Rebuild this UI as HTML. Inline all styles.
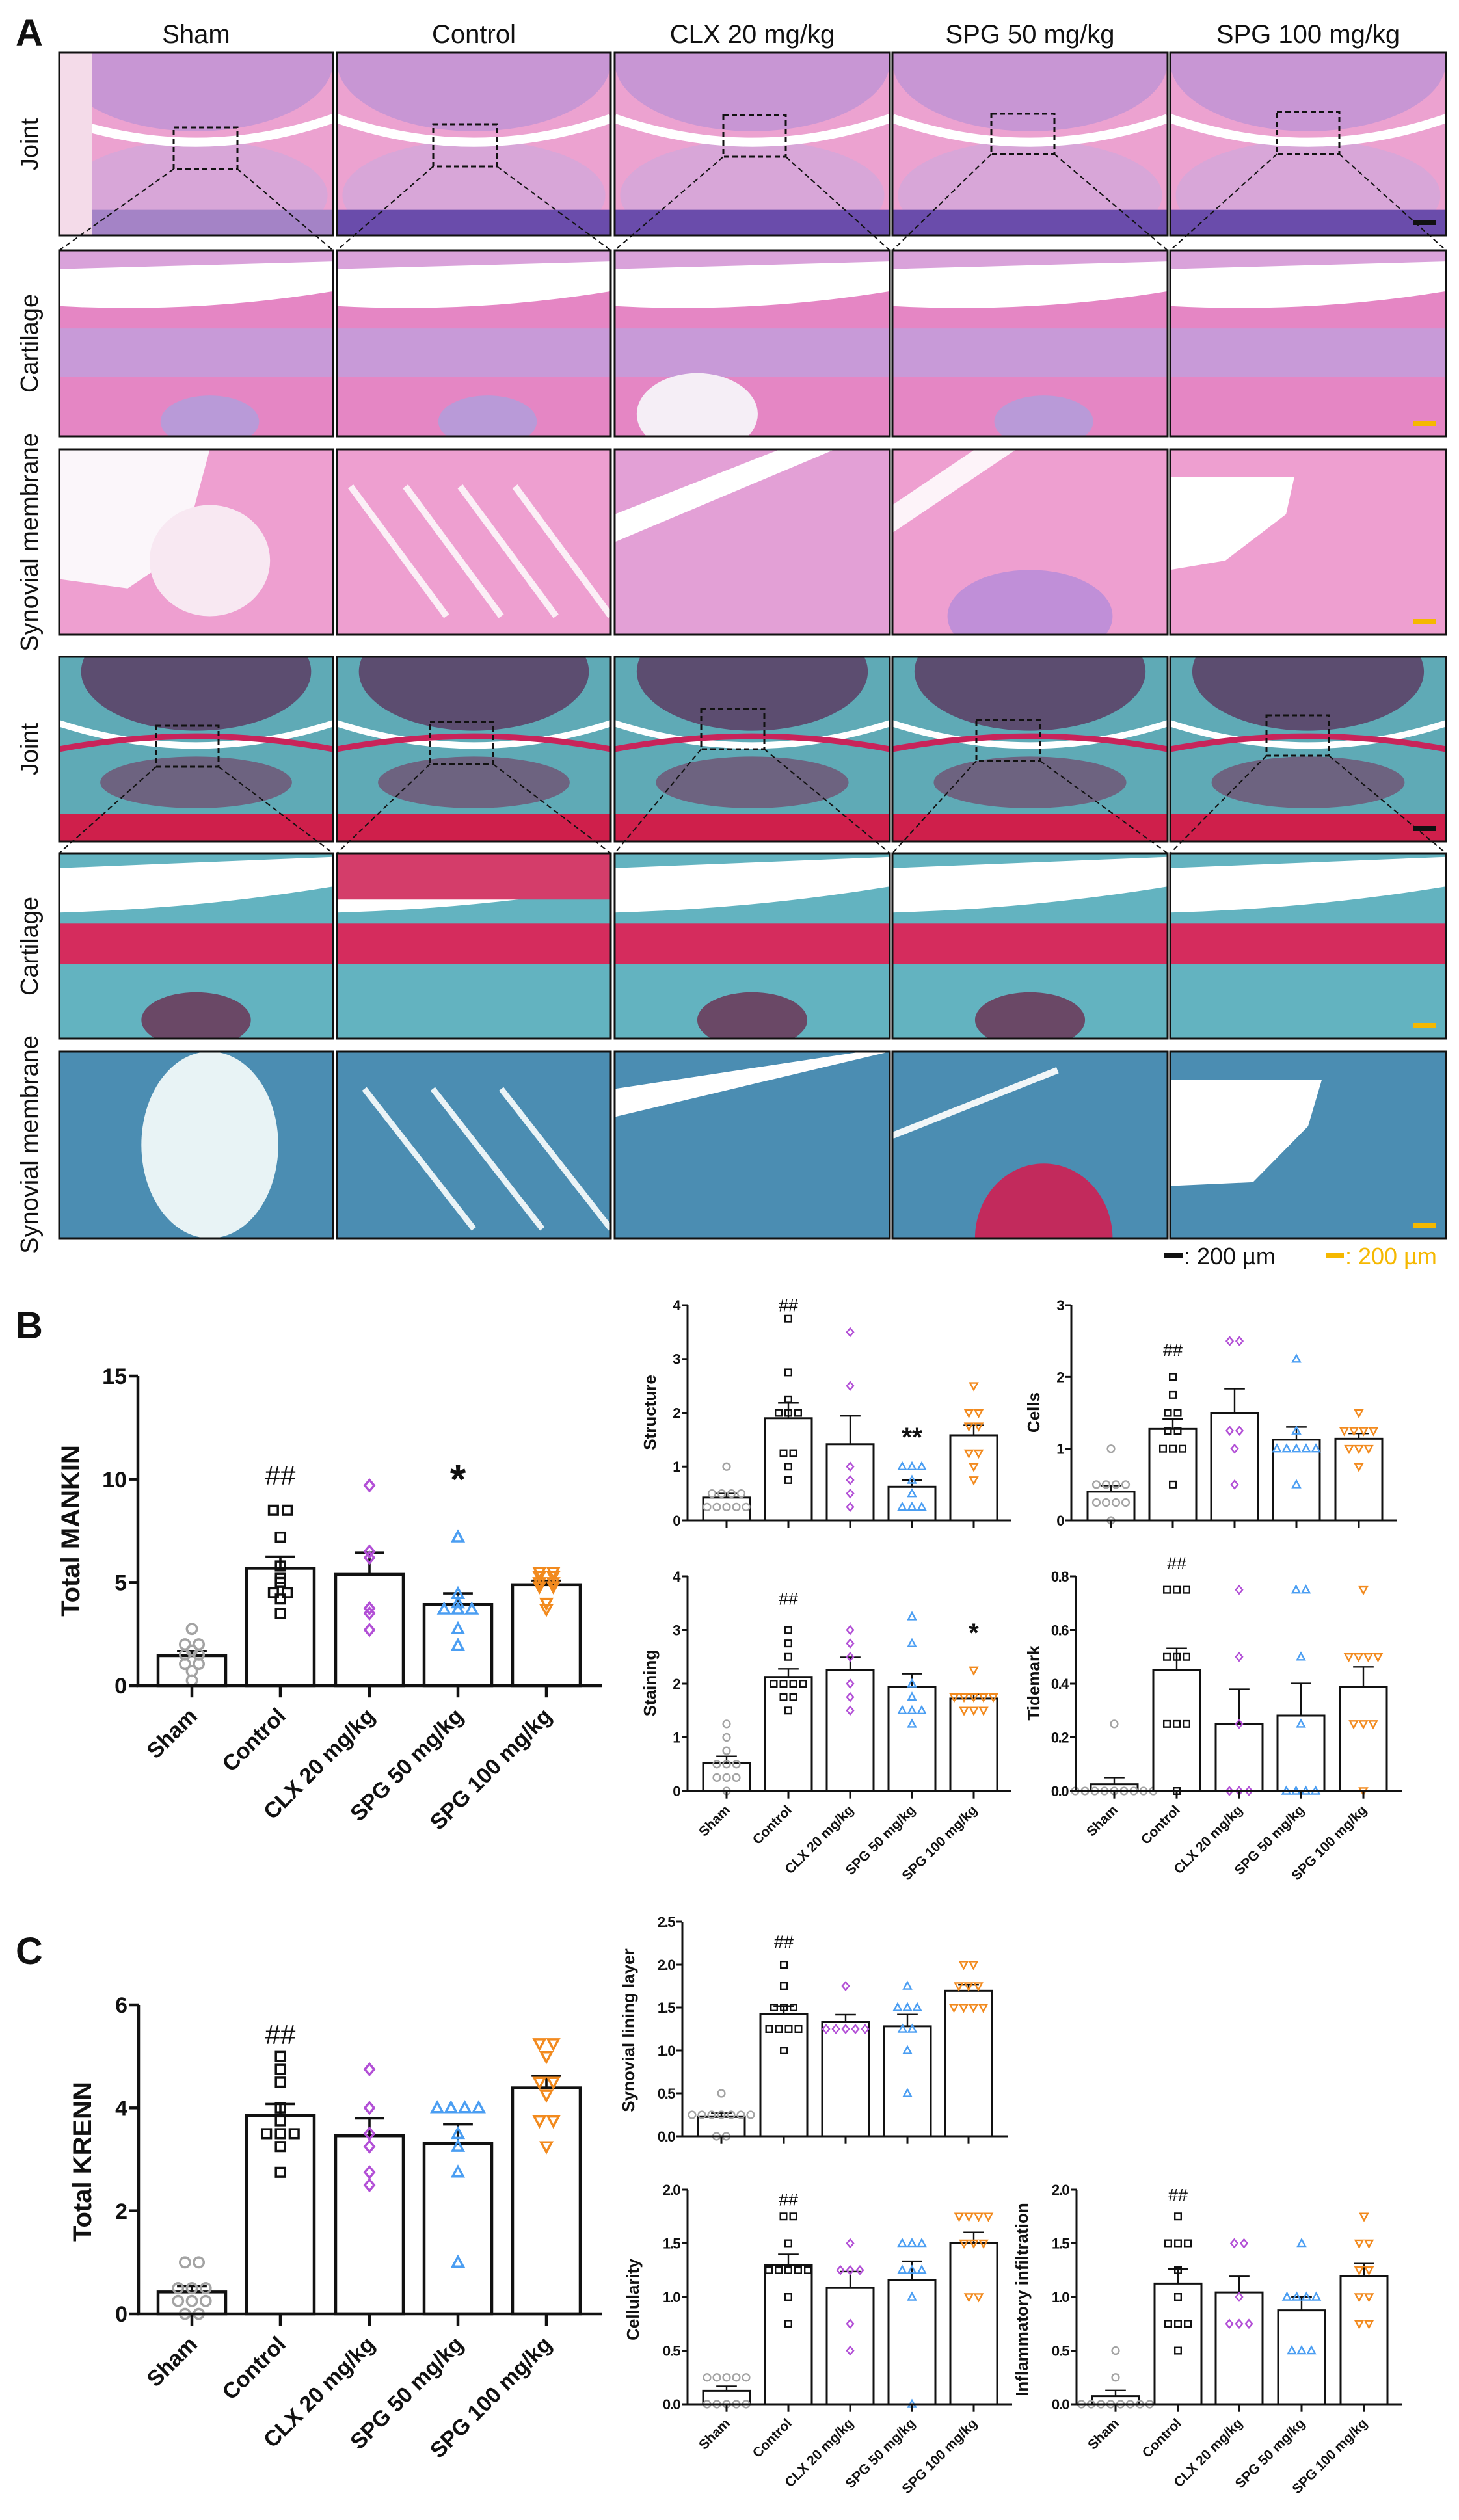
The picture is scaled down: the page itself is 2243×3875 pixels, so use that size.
<!DOCTYPE html>
<html><head><meta charset="utf-8"><style>
html,body{margin:0;padding:0;background:#fff;}
svg{display:block;font-family:"Liberation Sans",Arial,sans-serif;}
</style></head><body>
<svg id="fig" xmlns="http://www.w3.org/2000/svg" width="2243" height="3875" viewBox="0 0 2243 3875">
<rect x="0" y="0" width="2243" height="3875" fill="#fff"/>
<g id="panelA"></g>
<g id="charts"></g>
<text x="24" y="70" font-size="58" font-weight="bold" fill="#111">A</text>
<text x="24" y="2058" font-size="58" font-weight="bold" fill="#111">B</text>
<text x="24" y="3020" font-size="58" font-weight="bold" fill="#111">C</text>
<g>
<rect x="1790" y="1926" width="28" height="8" fill="#111"/>
<text x="1820" y="1944" font-size="36" fill="#111">: 200 µm</text>
<rect x="2038" y="1926" width="28" height="8" fill="#f5b800"/>
<text x="2068" y="1944" font-size="36" fill="#f5b800">: 200 µm</text>
</g>
</svg>
<script>
const groups = ['Sham','Control','CLX 20 mg/kg','SPG 50 mg/kg','SPG 100 mg/kg'];
const mankinValues = [[2.75,2.0,2.0,1.7,1.5,1.5,1.05,1.05,0.7,0.25],[8.5,8.5,7.2,5.8,5.2,5.0,4.5,4.5,4.2,3.5],[9.7,6.5,6.2,3.75,3.5,2.7],[7.2,4.45,4.0,3.7,3.7,3.7,2.75,1.95],[5.5,5.5,5.3,5.3,5.0,5.0,4.8,4.8,4.0,3.7]];
const mankinTicks = [0,5,10,15];
const structureValues = [[1,0.5,0.5,0.5,0.5,0.25,0.25,0.25,0.25,0.25],[3.75,2.75,2.25,2,2,2,1.25,1.25,1,0.75],[3.5,2.5,1,0.75,0.5,0.25],[1,1,1,0.75,0.5,0.25,0.25,0.25],[2.5,2,2,1.75,1.75,1.25,1.25,1,0.75]];
const structureTicks = [0,1,2,3,4];
const cellsValues = [[1,0.5,0.5,0.5,0.5,0.25,0.25,0.25,0.25,0],[2,1.75,1.5,1.5,1.25,1.25,1,1,1,0.5],[2.5,2.5,1.25,1.25,1,0.5],[2.25,1.25,1,1,1,1,1,0.5],[1.5,1.25,1.25,1.25,1.25,1,1,1,0.75]];
const cellsTicks = [0,1,2,3];
const stainingValues = [[1.25,1,0.75,0.5,0.5,0.5,0.25,0.25,0.25,0],[3,2.75,2.5,2,2,2,2,1.75,1.75,1.5],[3,2.75,2.5,2,1.75,1.5],[3.25,2.75,2,1.75,1.5,1.5,1.5,1.25],[2.25,1.75,1.75,1.75,1.75,1.75,1.5,1.5,1.5]];
const stainingTicks = [0,1,2,3,4];
const tidemarkValues = [[0.25,0,0,0,0,0,0,0,0,0],[0.75,0.75,0.75,0.5,0.5,0.5,0.25,0.25,0.25,0],[0.75,0.5,0.25,0,0,0],[0.75,0.75,0.5,0.25,0,0,0,0],[0.75,0.5,0.5,0.5,0.5,0.25,0.25,0.25,0]];
const tidemarkTicks = [0,0.2,0.4,0.6,0.8];
const krennValues = [[1,1,0.5,0.5,0.5,0.25,0.25,0.25,0,0],[5,4.75,4.5,4,3.75,3.5,3.5,3.5,3.25,2.75],[4.75,4,3.5,3.25,2.75,2.5],[4,4,4,4,3.5,3.25,2.75,1],[5.25,5.25,5,4.5,4.5,4.25,3.75,3.75,3.25]];
const krennTicks = [0,2,4,6];
const liningValues = [[0.5,0.25,0.25,0.25,0.25,0.25,0.25,0.25,0,0],[2,1.75,1.5,1.5,1.5,1.25,1.25,1.25,1.25,1],[1.75,1.25,1.25,1.25,1.25,1.25],[1.75,1.5,1.5,1.5,1.25,1.25,1,0.5],[2,2,1.75,1.75,1.75,1.5,1.5,1.5,1.5]];
const liningTicks = [0,0.5,1.0,1.5,2.0,2.5];
const cellularityValues = [[0.25,0.25,0.25,0.25,0.25,0,0,0,0,0],[1.75,1.75,1.5,1.25,1.25,1.25,1.25,1.25,1,0.75],[1.5,1.25,1.25,1.25,0.75,0.5],[1.5,1.5,1.5,1.25,1.25,1.25,1,0],[1.75,1.75,1.75,1.75,1.5,1.5,1.5,1,1]];
const cellularityTicks = [0,0.5,1.0,1.5,2.0];
const inflammValues = [[0.5,0.25,0,0,0,0,0,0,0,0],[1.75,1.5,1.5,1.5,1.25,1,0.75,0.75,0.75,0.5],[1.5,1.5,1,0.75,0.75,0.75],[1.5,1,1,1,1,0.5,0.5,0.5],[1.75,1.5,1.5,1.25,1.25,1,1,0.75,0.75]];
const inflammTicks = [0,0.5,1.0,1.5,2.0];
const mankinSig = [[1,10.2,'##'],[3,10.4,'*']];
const structureSig = [[1,4.0,'##'],[3,1.65,'**']];
const cellsSig = [[1,2.38,'##']];
const stainingSig = [[1,3.59,'##'],[4,3.05,'*']];
const tidemarkSig = [[1,0.85,'##']];
const krennSig = [[1,5.43,'##']];
const liningSig = [[1,2.27,'##']];
const cellularitySig = [[1,1.91,'##']];
const inflammSig = [[1,1.95,'##']];

const NS='http://www.w3.org/2000/svg';
function mk(tag,parent){const e=document.createElementNS(NS,tag);parent.appendChild(e);return e;}
function set(e,a){for(const k in a)e.setAttribute(k,a[k]);return e;}
const colors=['#a3a3a3','#111111','#b24fd6','#4b9ef2','#f28a1e'];

function drawMarker(parent,g,x,y,s,sw){
  let e;
  if(g===0){e=mk('circle',parent);set(e,{cx:x,cy:y,r:s*0.45});}
  else if(g===1){e=mk('rect',parent);set(e,{x:x-s*0.4,y:y-s*0.4,width:s*0.8,height:s*0.8});}
  else if(g===2){e=mk('polygon',parent);set(e,{points:`${x},${y-s*0.5} ${x+s*0.42},${y} ${x},${y+s*0.5} ${x-s*0.42},${y}`});}
  else if(g===3){e=mk('polygon',parent);set(e,{points:`${x},${y-s*0.5} ${x+s*0.48},${y+s*0.38} ${x-s*0.48},${y+s*0.38}`});}
  else {e=mk('polygon',parent);set(e,{points:`${x},${y+s*0.5} ${x+s*0.48},${y-s*0.38} ${x-s*0.48},${y-s*0.38}`});}
  set(e,{fill:'none',stroke:colors[g],'stroke-width':sw});
  
  
}

function chart(cfg){
  const root=document.getElementById('charts');
  const g=mk('g',root);
  
  
  const max=cfg.ticks[cfg.ticks.length-1];
  const ys=v=>cfg.y0-(v/max)*(cfg.y0-cfg.yTop);
  const lw=cfg.lw;
  cfg.values.forEach((arr,i)=>{
    const cx=cfg.centers[i];
    const n=arr.length, mean=arr.reduce((a,b)=>a+b,0)/n;
    const sd=Math.sqrt(arr.reduce((a,b)=>a+(b-mean)*(b-mean),0)/(n-1));
    const sem=sd/Math.sqrt(n);
    const bar=mk('rect',g);
    set(bar,{x:cx-cfg.bw/2,y:ys(mean),width:cfg.bw,height:cfg.y0-ys(mean),fill:'#fff',stroke:'#111','stroke-width':lw});
    
    
    const eb=mk('path',g);
    const cw=cfg.bw*0.22;
    set(eb,{d:`M${cx},${ys(mean)} V${ys(mean+sem)} M${cx-cw},${ys(mean+sem)} H${cx+cw}`,stroke:'#111','stroke-width':lw*0.8,fill:'none'});
    
    
    const counts={};arr.forEach(v=>{counts[v]=(counts[v]||0)+1;});
    const used={};
    arr.forEach(v=>{
      const k=counts[v];const j=used[v]||0;used[v]=j+1;
      const dx=(j-(k-1)/2)*cfg.ms*1.25;
      drawMarker(g,i,cx+dx,ys(v),cfg.ms,cfg.msw);
    });
  });
  const ax=mk('path',g);
  set(ax,{d:`M${cfg.x0},${cfg.yTop} V${cfg.y0} H${cfg.xEnd}`,stroke:'#111','stroke-width':lw,fill:'none'});
  
  
  cfg.ticks.forEach(t=>{
    const tk=mk('line',g);
    set(tk,{x1:cfg.x0-cfg.tl,x2:cfg.x0,y1:ys(t),y2:ys(t),stroke:'#111','stroke-width':lw});
    
    
    const tx=mk('text',g);
    set(tx,{x:cfg.x0-cfg.tl-3,y:ys(t)+cfg.tf*0.36,'text-anchor':'end','font-size':cfg.tf,'font-weight':'bold',fill:'#111','letter-spacing':cfg.ls||0});
    tx.textContent=cfg.fmt?t.toFixed(1):String(t);
    
    
  });
  cfg.centers.forEach((cx,i)=>{
    const tk=mk('line',g);
    set(tk,{x1:cx,x2:cx,y1:cfg.y0,y2:cfg.y0+cfg.tl*1.3,stroke:'#111','stroke-width':lw});
    
    
    if(cfg.labels){
      const lx=cx+cfg.lf*0.3, ly=cfg.y0+cfg.tl*1.3+cfg.lf*0.9;
      const tx=mk('text',g);
      set(tx,{x:lx,y:ly,'text-anchor':'end','font-size':cfg.lf,'font-weight':'bold',fill:'#111',transform:`rotate(-45 ${lx} ${ly})`});
      tx.textContent=groups[i];
      
      
    }
  });
  const tt=mk('text',g);
  set(tt,{x:cfg.titleX,y:cfg.titleY,'text-anchor':'middle','font-size':cfg.titleF,'font-weight':'bold',fill:'#111',transform:`rotate(-90 ${cfg.titleX} ${cfg.titleY})`});
  tt.textContent=cfg.title;
  
  
  cfg.sig.forEach(s=>{
    const tx=mk('text',g);
    const star=s[2].indexOf('*')>=0;
    const fs=star?cfg.sf*1.5:cfg.sf;
    set(tx,{x:cfg.centers[s[0]],y:ys(s[1])+fs*(star?0.55:0.35),'text-anchor':'middle','font-size':fs,'font-weight':star?'bold':'normal',fill:'#111'});
    tx.textContent=s[2];
    
    
  });
}
const big={tf:34,lf:34,tl:14,lw:4.5,ms:17,msw:3.5,bw:104,titleF:40,sf:42,labels:true};
const sm={tf:22,lf:21,tl:9,lw:3,ms:12,msw:2.4,bw:72,titleF:26,sf:27,ls:-1.5};
const cA=[295,431,568,704,840], cS=[1117,1212,1307,1402,1497];
chart(Object.assign({},big,{name:'total-mankin-chart',values:mankinValues,ticks:mankinTicks,sig:mankinSig,x0:212,xEnd:926,yTop:2116,y0:2592,centers:cA,title:'Total MANKIN',titleX:122,titleY:2354}));
chart(Object.assign({},big,{name:'total-krenn-chart',values:krennValues,ticks:krennTicks,sig:krennSig,x0:213,xEnd:926,yTop:3083,y0:3558,centers:cA,title:'Total KRENN',titleX:140,titleY:3324}));
chart(Object.assign({},sm,{name:'structure-chart',values:structureValues,ticks:structureTicks,sig:structureSig,x0:1057,xEnd:1554,yTop:2007,y0:2338,centers:cS,title:'Structure',titleX:1008,titleY:2172,labels:false}));
chart(Object.assign({},sm,{name:'cells-chart',values:cellsValues,ticks:cellsTicks,sig:cellsSig,x0:1647,xEnd:2148,yTop:2007,y0:2338,centers:[1708,1803,1898,1993,2089],title:'Cells',titleX:1598,titleY:2172,labels:false}));
chart(Object.assign({},sm,{name:'staining-chart',values:stainingValues,ticks:stainingTicks,sig:stainingSig,x0:1057,xEnd:1554,yTop:2424,y0:2754,centers:cS,title:'Staining',titleX:1008,titleY:2588,labels:true}));
chart(Object.assign({},sm,{name:'tidemark-chart',values:tidemarkValues,ticks:tidemarkTicks,sig:tidemarkSig,x0:1654,xEnd:2156,yTop:2424,y0:2754,centers:[1713,1809,1905,2000,2096],title:'Tidemark',titleX:1598,titleY:2588,labels:true,fmt:true}));
chart(Object.assign({},sm,{name:'synovial-lining-layer-chart',values:liningValues,ticks:liningTicks,sig:liningSig,x0:1049,xEnd:1550,yTop:2955,y0:3285,centers:[1109,1205,1300,1395,1489],title:'Synovial lining layer',titleX:975,titleY:3122,labels:false,fmt:true}));
chart(Object.assign({},sm,{name:'cellularity-chart',values:cellularityValues,ticks:cellularityTicks,sig:cellularitySig,x0:1057,xEnd:1556,yTop:3367,y0:3697,centers:cS,title:'Cellularity',titleX:982,titleY:3536,labels:true,fmt:true}));
chart(Object.assign({},sm,{name:'inflammatory-infiltration-chart',values:inflammValues,ticks:inflammTicks,sig:inflammSig,x0:1655,xEnd:2156,yTop:3367,y0:3697,centers:[1715,1811,1905,2001,2097],title:'Inflammatory infiltration',titleX:1580,titleY:3536,labels:true,fmt:true}));

(function(){
  const A=document.getElementById('panelA');
  const colX=[[91,512],[518,939],[945,1368],[1372,1795],[1799,2223]];
  const rowY=[[81,362],[385,671],[691,976],[1010,1294],[1312,1597],[1617,1904]];
  const boxes1=[[267,196,365,260],[666,191,764,256],[1112,177,1208,241],[1524,175,1621,237],[1963,172,2059,237]];
  const boxes4=[[240,1116,336,1179],[661,1110,758,1175],[1078,1090,1175,1152],[1501,1107,1599,1170],[1947,1100,2043,1162]];
  let cid=0;
  function shape(p,tag,a){const e=mk(tag,p);set(e,a);return e;}
  for(let r=0;r<6;r++)for(let c=0;c<5;c++){
    const x=colX[c][0],w=colX[c][1]-x,y=rowY[r][0],h=rowY[r][1]-y;
    const g=mk('g',A);
    
    
    const cp=mk('clipPath',g);cp.setAttribute('id','cp'+cid);
    shape(cp,'rect',{x:x,y:y,width:w,height:h});
    const q=mk('g',g);q.setAttribute('clip-path','url(#cp'+cid+')');cid++;
    const X=f=>x+w*f, Y=f=>y+h*f;
    if(r===0){
      shape(q,'rect',{x:x,y:y,width:w,height:h,fill:'#eca2d0'});
      shape(q,'ellipse',{cx:X(0.5),cy:Y(0.05),rx:w*0.5,ry:h*0.38,fill:'#c896d4'});
      shape(q,'ellipse',{cx:X(0.5),cy:Y(0.78),rx:w*0.48,ry:h*0.3,fill:'#d8a6d8'});
      shape(q,'path',{d:`M${x},${Y(0.36)} Q${X(0.5)},${Y(0.62)} ${x+w},${Y(0.36)}`,stroke:'#fff','stroke-width':14,fill:'none'});
      shape(q,'rect',{x:x,y:Y(0.86),width:w,height:h*0.14,fill:c===0?'#a483c6':'#6a4cab'});
      if(c===0){shape(q,'rect',{x:x,y:y,width:w*0.12,height:h,fill:'#f4dbe9'});}
    } else if(r===1){
      shape(q,'rect',{x:x,y:y,width:w,height:h,fill:'#e586c4'});
      shape(q,'rect',{x:x,y:y,width:w,height:h*0.12,fill:'#d9a2da'});
      shape(q,'path',{d:`M${x},${Y(0.1)} L${x+w},${Y(0.06)} L${x+w},${Y(0.22)} Q${X(0.5)},${Y(0.34)} ${x},${Y(0.3)} Z`,fill:'#fff'});
      shape(q,'rect',{x:x,y:Y(0.42),width:w,height:h*0.26,fill:'#c89ad8'});
      if(c===2){shape(q,'ellipse',{cx:X(0.3),cy:Y(0.88),rx:w*0.22,ry:h*0.22,fill:'#f5eef6'});}
      if(c===0||c===1||c===3){shape(q,'ellipse',{cx:X(0.55),cy:Y(0.92),rx:w*0.18,ry:h*0.14,fill:'#b99ad8'});}
    } else if(r===2){
      shape(q,'rect',{x:x,y:y,width:w,height:h,fill:c===2?'#e3a0d6':'#ee9fd0'});
      if(c===0){shape(q,'path',{d:`M${x},${y} H${X(0.55)} L${X(0.45)},${Y(0.55)} L${X(0.25)},${Y(0.75)} L${x},${Y(0.7)} Z`,fill:'#fbf6fa'});shape(q,'ellipse',{cx:X(0.55),cy:Y(0.6),rx:w*0.22,ry:h*0.3,fill:'#f8e8f2'});}
      if(c===1){for(let k=0;k<4;k++)shape(q,'line',{x1:X(0.05+k*0.2),y1:Y(0.2),x2:X(0.4+k*0.2),y2:Y(0.9),stroke:'#fbeff6','stroke-width':10});}
      if(c===2){shape(q,'path',{d:`M${x},${Y(0.35)} L${X(0.6)},${y} H${X(0.8)} L${x},${Y(0.5)} Z`,fill:'#fff'});}
      if(c===3){shape(q,'ellipse',{cx:X(0.5),cy:Y(0.9),rx:w*0.3,ry:h*0.25,fill:'#c08fd8'});shape(q,'path',{d:`M${x},${Y(0.3)} L${X(0.3)},${y} H${X(0.45)} L${x},${Y(0.45)} Z`,fill:'#fdf3f9'});}
      if(c===4){shape(q,'path',{d:`M${x},${Y(0.15)} H${X(0.45)} L${X(0.42)},${Y(0.35)} L${X(0.2)},${Y(0.6)} L${x},${Y(0.65)} Z`,fill:'#fff'});}
    } else if(r===3){
      shape(q,'rect',{x:x,y:y,width:w,height:h,fill:'#5faab6'});
      shape(q,'ellipse',{cx:X(0.5),cy:Y(0.08),rx:w*0.42,ry:h*0.32,fill:'#5c4d70'});
      shape(q,'path',{d:`M${x},${Y(0.36)} Q${X(0.5)},${Y(0.6)} ${x+w},${Y(0.36)}`,stroke:'#fff','stroke-width':10,fill:'none'});
      shape(q,'path',{d:`M${x},${Y(0.5)} Q${X(0.5)},${Y(0.36)} ${x+w},${Y(0.5)}`,stroke:'#c8245a','stroke-width':9,fill:'none'});
      shape(q,'ellipse',{cx:X(0.5),cy:Y(0.68),rx:w*0.35,ry:h*0.14,fill:'#6d6380'});
      shape(q,'rect',{x:x,y:Y(0.85),width:w,height:h*0.15,fill:'#cf1f4b'});
    } else if(r===4){
      shape(q,'rect',{x:x,y:y,width:w,height:h,fill:'#63b3c0'});
      shape(q,'path',{d:`M${x},${Y(0.08)} L${x+w},${Y(0.02)} L${x+w},${Y(0.18)} Q${X(0.5)},${Y(0.3)} ${x},${Y(0.32)} Z`,fill:'#fff'});
      shape(q,'rect',{x:x,y:Y(0.38),width:w,height:h*0.22,fill:'#d52c5d'});
      if(c!==1&&c!==4){shape(q,'ellipse',{cx:X(0.5),cy:Y(0.9),rx:w*0.2,ry:h*0.15,fill:'#6a4866'});}
      if(c===1){shape(q,'rect',{x:x,y:y,width:w,height:h*0.25,fill:'#d43d6a'});}
    } else {
      shape(q,'rect',{x:x,y:y,width:w,height:h,fill:'#4b8db2'});
      if(c===0){shape(q,'ellipse',{cx:X(0.55),cy:Y(0.5),rx:w*0.25,ry:h*0.5,fill:'#e8f3f5'});}
      if(c===1){for(let k=0;k<3;k++)shape(q,'line',{x1:X(0.1+k*0.25),y1:Y(0.2),x2:X(0.5+k*0.25),y2:Y(0.95),stroke:'#eaf3f6','stroke-width':9});}
      if(c===2){shape(q,'path',{d:`M${x},${Y(0.2)} L${X(0.9)},${y} H${x+w} L${x},${Y(0.35)} Z`,fill:'#fff'});}
      if(c===3){shape(q,'ellipse',{cx:X(0.55),cy:Y(1.0),rx:w*0.25,ry:h*0.4,fill:'#c22a5c'});shape(q,'line',{x1:x,y1:Y(0.45),x2:X(0.6),y2:Y(0.1),stroke:'#f1f6f8','stroke-width':10});}
      if(c===4){shape(q,'path',{d:`M${x},${Y(0.15)} H${X(0.55)} L${X(0.5)},${Y(0.4)} L${X(0.3)},${Y(0.7)} L${x},${Y(0.72)} Z`,fill:'#fff'});}
    }
    const fr=mk('rect',g);
    set(fr,{x:x,y:y,width:w,height:h,fill:'none',stroke:'#111','stroke-width':3});
    
    
    if(c===4){
      const sb=mk('rect',g);
      set(sb,{x:x+w-50,y:y+h-24,width:34,height:8,fill:(r===0||r===3)?'#111':'#f5b800'});
      
      
    }
  }
  [[boxes1,0],[boxes4,3]].forEach(([bx,r])=>{
    bx.forEach((b,c)=>{
      const bxe=mk('rect',A);
      set(bxe,{x:b[0],y:b[1],width:b[2]-b[0],height:b[3]-b[1],fill:'none',stroke:'#111','stroke-width':3,'stroke-dasharray':'8 5'});
      
      
      const ln=mk('path',A);
      set(ln,{d:`M${b[0]},${b[3]} L${colX[c][0]},${rowY[r+1][0]} M${b[2]},${b[3]} L${colX[c][1]},${rowY[r+1][0]}`,fill:'none',stroke:'#111','stroke-width':2,'stroke-dasharray':'8 5'});
      
      
    });
  });
  const heads=['Sham','Control','CLX 20 mg/kg','SPG 50 mg/kg','SPG 100 mg/kg'];
  heads.forEach((t,c)=>{
    const tx=mk('text',A);
    set(tx,{x:(colX[c][0]+colX[c][1])/2,y:66,'text-anchor':'middle','font-size':40,fill:'#111'});
    tx.textContent=t;
    
    
  });
  const rl=[['Joint',222],['Cartilage',528],['Synovial membrane',834],['Joint',1152],['Cartilage',1455],['Synovial membrane',1760]];
  rl.forEach(([t,yc])=>{
    const tx=mk('text',A);
    set(tx,{x:58,y:yc,'text-anchor':'middle','font-size':38,fill:'#111',transform:`rotate(-90 58 ${yc})`});
    tx.textContent=t;
    
    
  });
})();
</script>
</body></html>
